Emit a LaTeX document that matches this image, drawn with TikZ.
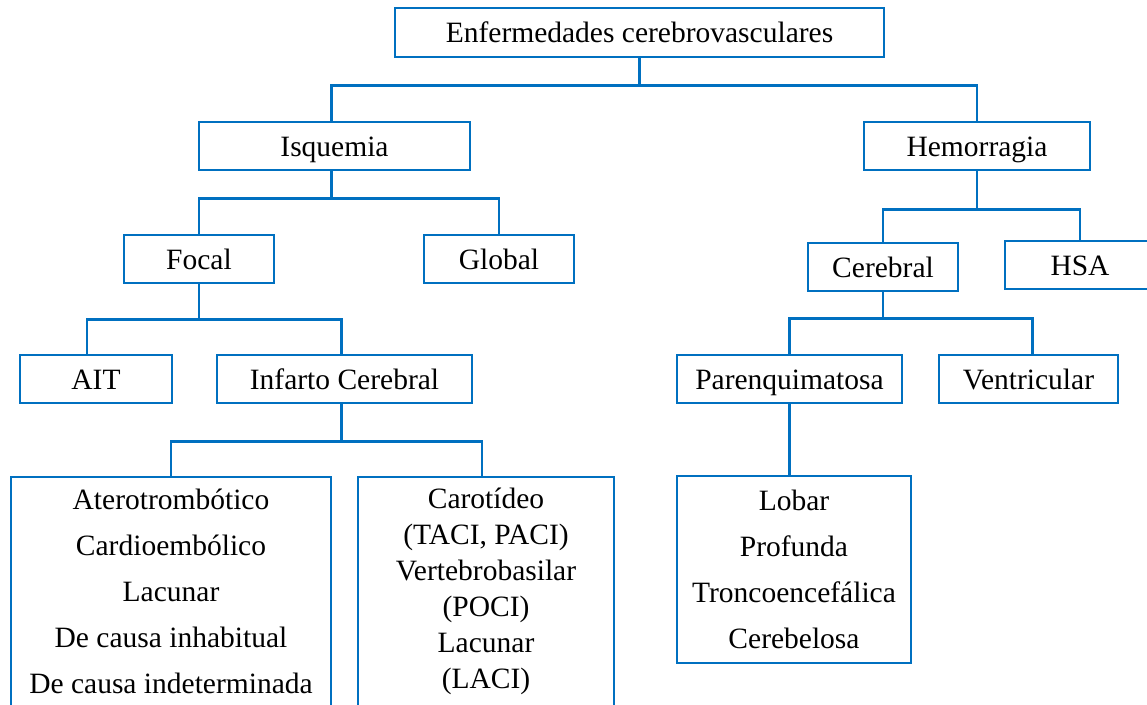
\documentclass[tikz,border=0pt]{standalone}
\usepackage{fontspec}
\setmainfont{Liberation Serif}
\definecolor{boxblue}{HTML}{0070C0}
\tikzset{
  box/.style={draw=boxblue, line width=2.6pt, inner sep=0pt, align=center,
    font=\fontsize{29.5}{46}\selectfont},
  single/.style={box, text height=20pt, text depth=0pt, minimum height=48pt},
  link/.style={draw=boxblue, line width=2.6pt},
}
\begin{document}
\begin{tikzpicture}[x=1pt, y=-1pt]
\useasboundingbox (0,0) rectangle (1147,704);
% levels 1 and 2
\node[single, minimum width=489pt, minimum height=49pt] (ecv) at (639.5,32.5) {Enfermedades cerebrovasculares};
\node[single, minimum width=271pt] (isq) at (334.5,146) {Isquemia};
\node[single, minimum width=226pt] (hem) at (977,146) {Hemorragia};
% ischemia branch
\node[single, minimum width=150pt] (focal) at (199,259) {Focal};
\node[single, minimum width=150pt] (global) at (499,259) {Global};
\node[single, minimum width=152pt] (ait) at (96,379) {AIT};
\node[single, minimum width=255pt] (infarto) at (344.5,379) {Infarto Cerebral};
\node[box, minimum width=320pt, minimum height=229pt] (etiol) at (171,591.5)
  {Aterotrombótico\\Cardioembólico\\Lacunar\\De causa inhabitual\\De causa indeterminada};
\node[box, minimum width=256pt, minimum height=229pt, font=\fontsize{29.5}{36}\selectfont] (topog) at (486,591.5)
  {Carotídeo\\(TACI, PACI)\\Vertebrobasilar\\(POCI)\\Lacunar\\(LACI)};
% hemorrhage branch
\node[single, minimum width=150pt] (cereb) at (883,267) {Cerebral};
\node[single, minimum width=150pt] (hsa) at (1080,265) {HSA};
\node[single, minimum width=225pt] (parenq) at (789.5,379) {Parenquimatosa};
\node[single, minimum width=179pt] (ventr) at (1028.5,379) {Ventricular};
\node[box, minimum width=234pt, minimum height=187pt] (locus) at (794,569.5)
  {Lobar\\Profunda\\Troncoencefálica\\Cerebelosa};
% connectors
\draw[link] (ecv.south) -- ++(0,27) -| ([xshift=-3pt]isq.north);
\draw[link] (ecv.south) -- ++(0,27) -| (hem.north);
\draw[link] ([xshift=-3pt]isq.south) -- ++(0,27) -| (focal.north);
\draw[link] ([xshift=-3pt]isq.south) -- ++(0,27) -| (global.north);
\draw[link] (focal.south) -- ++(0,35) -| ([xshift=-9pt]ait.north);
\draw[link] (focal.south) -- ++(0,35) -| ([xshift=-3pt]infarto.north);
\draw[link] ([xshift=-3pt]infarto.south) -- ++(0,37) -| (etiol.north);
\draw[link] ([xshift=-3pt]infarto.south) -- ++(0,37) -| ([xshift=-4pt]topog.north);
\draw[link] (hem.south) -- ++(0,38) -| (cereb.north);
\draw[link] (hem.south) -- ++(0,38) -| (hsa.north);
\draw[link] (cereb.south) -- ++(0,26) -| (parenq.north);
\draw[link] (cereb.south) -- ++(0,26) -| ([xshift=4pt]ventr.north);
\draw[link] (parenq.south) -- (parenq.south |- locus.north);
\end{tikzpicture}
\end{document}
